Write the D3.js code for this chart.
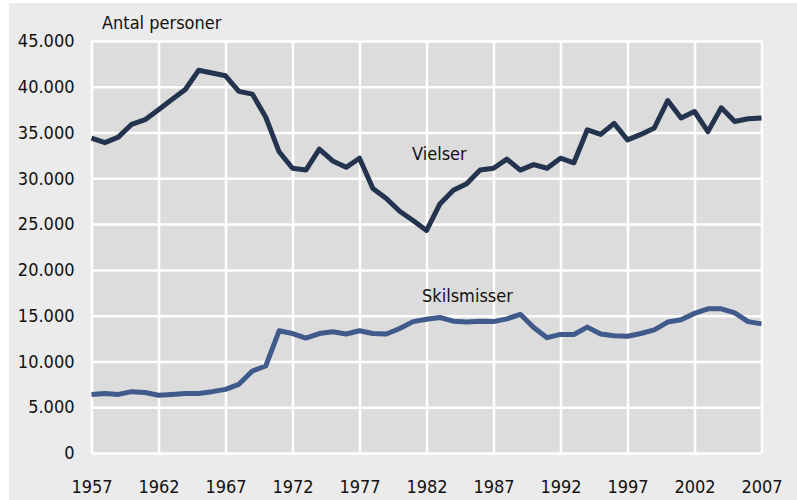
<!DOCTYPE html>
<html>
<head>
<meta charset="utf-8">
<script src="https://cdn.jsdelivr.net/npm/d3@7"></script>
<style>
  body { margin: 0; background: #fff; }
  svg { display: block; }
  text { font-family: "Liberation Sans Narrow", "DejaVu Sans Condensed", "Noto Sans", sans-serif; fill: #111; }
</style>
</head>
<body>
<svg width="797" height="500"></svg>
<script>
'use strict';

const years = d3.range(1957, 2008);
const tickYears = [1957, 1962, 1967, 1972, 1977, 1982, 1987, 1992, 1997, 2002, 2007];
const yTicks = [0, 5000, 10000, 15000, 20000, 25000, 30000, 35000, 40000, 45000];

const vielser = [34400, 33900, 34500, 35900, 36400, 37500, 38600, 39700, 41800, 41500,
  41200, 39500, 39200, 36700, 32900, 31100, 30900, 33200, 31900, 31200,
  32200, 28900, 27800, 26400, 25400, 24300, 27200, 28700, 29400, 30900,
  31100, 32100, 30900, 31500, 31100, 32200, 31700, 35300, 34800, 36000,
  34200, 34800, 35500, 38500, 36600, 37300, 35100, 37700, 36200, 36500, 36600];

const skilsmisser = [6400, 6500, 6400, 6700, 6600, 6300, 6400, 6500, 6500, 6700,
  6950, 7500, 8950, 9500, 13350, 13050, 12550, 13050, 13250, 13000,
  13350, 13050, 13000, 13600, 14350, 14600, 14800, 14400, 14300, 14400,
  14350, 14650, 15150, 13700, 12600, 12950, 12950, 13750, 13000, 12800,
  12750, 13050, 13450, 14300, 14550, 15250, 15750, 15750, 15300, 14350, 14100];

const svg = d3.select('svg');
const width = +svg.attr('width');
const height = +svg.attr('height');

// outer panel
svg.append('rect')
    .attr('x', 9).attr('y', 3)
    .attr('width', width - 9).attr('height', height - 3)
    .attr('fill', '#ebebeb');

const plot = { left: 91.5, right: 761.5, top: 41, bottom: 453 };

const x = d3.scaleLinear().domain([1957, 2007]).range([plot.left, plot.right]);
const y = d3.scaleLinear().domain([0, 45000]).range([plot.bottom, plot.top]);

svg.append('rect')
    .attr('x', plot.left).attr('y', plot.top)
    .attr('width', plot.right - plot.left).attr('height', plot.bottom - plot.top)
    .attr('fill', '#dcdcdc');

const fmt = d => d3.format(',')(d).replace(/,/g, '.');

// grid
svg.append('g')
    .attr('transform', `translate(${plot.left},0)`)
    .call(d3.axisLeft(y).tickValues(yTicks).tickSize(-(plot.right - plot.left)).tickFormat(''))
    .call(g => g.select('.domain').remove())
    .call(g => g.selectAll('line').attr('stroke', '#fff').attr('stroke-width', 2.5));

svg.append('g')
    .attr('transform', `translate(0,${plot.bottom})`)
    .call(d3.axisBottom(x).tickValues(tickYears).tickSize(-(plot.bottom - plot.top)).tickFormat(''))
    .call(g => g.select('.domain').remove())
    .call(g => g.selectAll('line').attr('stroke', '#fff').attr('stroke-width', 2.5));

// tick labels
svg.append('g')
    .attr('transform', `translate(${plot.left},0)`)
    .call(d3.axisLeft(y).tickValues(yTicks).tickSize(0).tickPadding(17).tickFormat(fmt))
    .call(g => g.select('.domain').remove())
    .call(g => g.selectAll('text').attr('font-size', 18).attr('fill', '#111'));

svg.append('g')
    .attr('transform', `translate(0,${plot.bottom})`)
    .call(d3.axisBottom(x).tickValues(tickYears).tickSize(0).tickPadding(27).tickFormat(d3.format('d')))
    .call(g => g.select('.domain').remove())
    .call(g => g.selectAll('text').attr('font-size', 18).attr('fill', '#111'));

svg.selectAll('.tick text').style('font-family', '"Liberation Sans Narrow", "DejaVu Sans Condensed", sans-serif');

const line = d3.line()
    .x((d, i) => x(years[i]))
    .y(d => y(d));

svg.append('path')
    .datum(skilsmisser)
    .attr('fill', 'none')
    .attr('stroke', '#3f5a8b')
    .attr('stroke-width', 5)
    .attr('stroke-linejoin', 'round')
    .attr('d', line);

svg.append('path')
    .datum(vielser)
    .attr('fill', 'none')
    .attr('stroke', '#24344f')
    .attr('stroke-width', 5)
    .attr('stroke-linejoin', 'round')
    .attr('d', line);

svg.append('text')
    .attr('x', 102).attr('y', 29)
    .attr('font-size', 18)
    .text('Antal personer');

svg.append('text')
    .attr('x', 412).attr('y', 160)
    .attr('font-size', 18)
    .text('Vielser');

svg.append('text')
    .attr('x', 422).attr('y', 302)
    .attr('font-size', 18)
    .text('Skilsmisser');
</script>
</body>
</html>
